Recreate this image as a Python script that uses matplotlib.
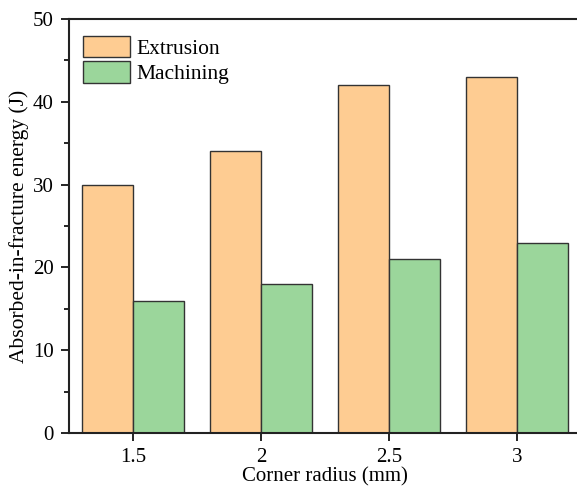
import numpy as np
import matplotlib.pyplot as plt

plt.rcParams['font.family'] = ['Liberation Serif', 'DejaVu Serif']

radius = ['1.5', '2', '2.5', '3']
extrusion = [30, 34, 42, 43]
machining = [16, 18, 21, 23]

fig = plt.figure(figsize=(5.77, 4.86), dpi=100)
ax = fig.add_axes([69 / 577, 53 / 486, 512 / 577, 414 / 486])

x = np.arange(len(radius))
w = 0.4
ax.bar(x - w / 2, extrusion, w, color='#FECC92', edgecolor='#333333', linewidth=1.0, label='Extrusion')
ax.bar(x + w / 2, machining, w, color='#9BD69B', edgecolor='#333333', linewidth=1.0, label='Machining')

ax.set_xlim(-0.5, 3.5)
ax.set_ylim(0, 50)
ax.set_xticks(x)
ax.set_xticklabels(radius)
ax.set_yticks(range(0, 51, 10))
ax.set_yticks(range(5, 50, 10), minor=True)
ax.tick_params(axis='both', which='major', direction='out', length=6, width=1.2, labelsize=15, pad=5)
ax.tick_params(axis='y', which='minor', direction='out', length=3.5, width=1.2)
ax.spines['right'].set_visible(False)
for s in ['left', 'bottom', 'top']:
    ax.spines[s].set_linewidth(1.5)
    ax.spines[s].set_color('#222222')

ax.set_xlabel('Corner radius (mm)', fontsize=15, labelpad=0)
ax.set_ylabel('Absorbed-in-fracture energy (J)', fontsize=15.5, labelpad=3)

ax.legend(loc='upper left', frameon=False, fontsize=15.5, handlelength=2.2, handleheight=1.15,
          handletextpad=0.3, labelspacing=0.12, borderaxespad=0.0,
          bbox_to_anchor=(0.01, 0.98))

fig.savefig('out.png', dpi=100)
